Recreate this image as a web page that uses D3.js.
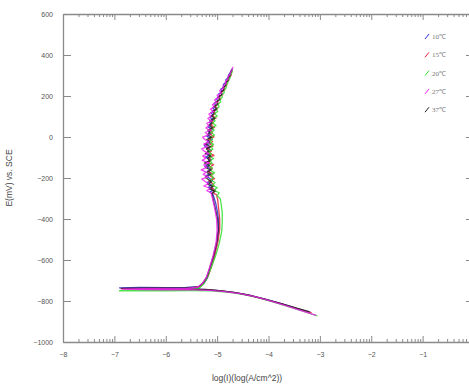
<!DOCTYPE html>
<html><head><meta charset="utf-8">
<script src="https://cdn.jsdelivr.net/npm/d3@7"></script>
<style>body{margin:0;background:#fff}svg{display:block}</style>
</head><body>
<script>
const seriesNames = ["10℃","15℃","20℃","27℃","37℃"];
const seriesColors = ["#2a2ad0","#e8203a","#30e030","#f020f0","#202020"];
const xTicks = [-8,-7,-6,-5,-4,-3,-2,-1];
const yTicks = [600,400,200,0,-200,-400,-600,-800,-1000];
const s10 = [[-3.18,-855],[-3.45,-836],[-3.75,-813],[-4.05,-792],[-4.35,-773],[-4.65,-759],[-4.95,-750],[-5.2,-745],[-5.6,-741],[-6.1,-739],[-6.5,-738],[-6.9,-736],[-6.5,-734],[-6.0,-735],[-5.6,-734],[-5.35,-730],[-5.25,-712],[-5.19,-688],[-5.13,-640],[-5.06,-585],[-5.0,-520],[-4.97,-460],[-4.97,-410],[-4.99,-370],[-5.03,-320],
[-5.08,-280],[-5.14,-268],[-5.05,-257],[-5.17,-246],[-5.11,-233],[-5.2,-222],[-5.09,-212],[-5.16,-199],[-5.22,-188],[-5.12,-178],[-5.19,-166],[-5.1,-155],[-5.24,-144],[-5.15,-132],[-5.2,-121],[-5.11,-110],[-5.23,-98],[-5.14,-88],[-5.21,-76],[-5.12,-65],[-5.18,-53],[-5.25,-42],[-5.13,-31],[-5.19,-20],[-5.1,-8],[-5.2,3],[-5.12,15],[-5.17,26],[-5.08,38],[-5.18,49],[-5.11,61],[-5.15,72],[-5.06,84],[-5.14,95],[-5.08,107],[-5.12,118],[-5.03,130],[-5.09,141],[-5.02,153],[-5.06,164],[-4.98,176],[-5.02,187],[-4.95,199],[-4.97,210],[-4.9,222],[-4.93,233],[-4.86,245],[-4.88,256],[-4.82,268],[-4.83,279],[-4.78,291],[-4.78,302],[-4.74,314],[-4.73,326]];
const s15 = [[-3.16,-858],[-3.43,-838],[-3.73,-815],[-4.03,-794],[-4.33,-775],[-4.63,-760],[-4.93,-751],[-5.18,-746],[-5.6,-744],[-6.1,-743],[-6.5,-742],[-6.87,-740],[-6.4,-739],[-5.9,-739],[-5.5,-737],[-5.32,-728],[-5.24,-705],[-5.17,-675],[-5.1,-625],[-5.04,-570],[-4.98,-505],[-4.95,-450],[-4.95,-400],[-4.97,-350],[-4.99,-305],
[-5.01,-282],[-5.09,-271],[-5.03,-259],[-5.12,-249],[-5.06,-236],[-5.1,-225],[-5.16,-214],[-5.05,-203],[-5.13,-191],[-5.08,-180],[-5.18,-169],[-5.1,-157],[-5.14,-147],[-5.07,-135],[-5.19,-123],[-5.12,-113],[-5.16,-101],[-5.06,-90],[-5.15,-79],[-5.11,-67],[-5.2,-56],[-5.08,-45],[-5.14,-33],[-5.09,-22],[-5.17,-10],[-5.06,1],[-5.13,12],[-5.09,24],[-5.16,35],[-5.05,47],[-5.12,58],[-5.07,70],[-5.11,81],[-5.02,93],[-5.09,104],[-5.04,116],[-5.07,127],[-4.99,139],[-5.04,150],[-4.97,162],[-5.0,173],[-4.93,185],[-4.96,196],[-4.89,208],[-4.92,219],[-4.85,231],[-4.87,242],[-4.81,254],[-4.82,265],[-4.77,277],[-4.77,288],[-4.73,300],[-4.72,312],[-4.71,322]];
const s20 = [[-3.05,-872],[-3.33,-850],[-3.63,-826],[-3.93,-803],[-4.23,-782],[-4.53,-766],[-4.83,-756],[-5.13,-750],[-5.5,-749],[-6.0,-750],[-6.5,-751],[-6.9,-750],[-6.5,-747],[-6.0,-746],[-5.6,-744],[-5.35,-738],[-5.26,-716],[-5.2,-690],[-5.12,-640],[-5.03,-580],[-4.96,-520],[-4.91,-460],[-4.9,-410],[-4.9,-370],[-4.92,-330],
[-4.94,-300],[-5.0,-286],[-4.96,-272],[-5.06,-260],[-5.0,-247],[-5.1,-235],[-5.04,-222],[-5.13,-210],[-5.07,-197],[-5.12,-185],[-5.05,-174],[-5.15,-162],[-5.09,-151],[-5.17,-139],[-5.1,-128],[-5.14,-116],[-5.07,-105],[-5.16,-93],[-5.11,-82],[-5.18,-70],[-5.08,-59],[-5.13,-47],[-5.07,-36],[-5.15,-24],[-5.09,-13],[-5.13,-1],[-5.05,10],[-5.12,22],[-5.06,33],[-5.1,45],[-5.02,56],[-5.09,68],[-5.04,79],[-5.07,91],[-5.0,102],[-5.05,114],[-4.99,125],[-5.02,137],[-4.96,148],[-4.99,160],[-4.93,171],[-4.95,183],[-4.9,194],[-4.91,206],[-4.86,217],[-4.87,229],[-4.82,240],[-4.83,252],[-4.79,263],[-4.79,275],[-4.75,286],[-4.75,298],[-4.72,310],[-4.7,330]];
const s27 = [[-3.07,-870],[-3.35,-848],[-3.65,-824],[-3.95,-801],[-4.25,-780],[-4.55,-764],[-4.85,-754],[-5.15,-748],[-5.55,-745],[-6.0,-745],[-6.45,-744],[-6.85,-742],[-6.45,-740],[-6.0,-740],[-5.6,-739],[-5.38,-733],[-5.28,-712],[-5.21,-685],[-5.15,-640],[-5.08,-580],[-5.02,-515],[-5.0,-455],[-5.01,-400],[-5.05,-345],[-5.09,-300],
[-5.12,-272],[-5.2,-262],[-5.14,-250],[-5.26,-239],[-5.17,-228],[-5.24,-216],[-5.3,-205],[-5.18,-194],[-5.27,-182],[-5.21,-171],[-5.31,-160],[-5.2,-148],[-5.26,-137],[-5.16,-126],[-5.29,-114],[-5.22,-103],[-5.28,-92],[-5.17,-80],[-5.25,-69],[-5.3,-58],[-5.19,-46],[-5.26,-35],[-5.16,-24],[-5.24,-12],[-5.28,-1],[-5.17,10],[-5.23,22],[-5.14,33],[-5.22,44],[-5.16,56],[-5.2,67],[-5.11,78],[-5.18,90],[-5.12,101],[-5.16,112],[-5.07,124],[-5.13,135],[-5.06,146],[-5.09,158],[-5.01,169],[-5.05,180],[-4.97,192],[-5.0,203],[-4.92,214],[-4.95,226],[-4.88,237],[-4.89,248],[-4.83,260],[-4.84,271],[-4.79,282],[-4.79,294],[-4.75,305],[-4.74,316],[-4.71,328],[-4.69,342]];
const s37 = [[-3.2,-853],[-3.47,-834],[-3.77,-812],[-4.07,-791],[-4.37,-772],[-4.67,-758],[-4.97,-749],[-5.22,-744],[-5.6,-742],[-6.1,-741],[-6.5,-740],[-6.86,-738],[-6.4,-737],[-6.0,-737],[-5.6,-736],[-5.36,-731],[-5.27,-710],[-5.2,-682],[-5.14,-635],[-5.07,-578],[-5.01,-512],[-4.98,-452],[-4.99,-402],[-5.03,-355],[-5.07,-310],
[-5.1,-276],[-5.04,-265],[-5.15,-253],[-5.08,-242],[-5.19,-230],[-5.11,-219],[-5.17,-207],[-5.23,-196],[-5.13,-184],[-5.2,-173],[-5.12,-161],[-5.22,-150],[-5.15,-139],[-5.25,-127],[-5.14,-116],[-5.19,-104],[-5.12,-93],[-5.23,-81],[-5.16,-70],[-5.21,-58],[-5.13,-47],[-5.24,-35],[-5.15,-24],[-5.2,-12],[-5.11,-1],[-5.19,11],[-5.14,22],[-5.18,34],[-5.09,45],[-5.16,57],[-5.1,68],[-5.14,80],[-5.05,91],[-5.11,103],[-5.06,114],[-5.09,126],[-5.01,137],[-5.06,149],[-4.99,160],[-5.02,172],[-4.95,183],[-4.98,195],[-4.91,206],[-4.93,218],[-4.87,229],[-4.88,241],[-4.83,252],[-4.84,264],[-4.79,275],[-4.79,287],[-4.75,298],[-4.75,310],[-4.72,322],[-4.71,334]];
const seriesData = [s10, s15, s20, s27, s37];
const drawOrder = [0,1,2,4,3];

const W = 469, H = 385;
const svg = d3.select("body").append("svg").attr("width", W).attr("height", H);
const x = d3.scaleLinear().domain([-8, 0]).range([63, 474]);
const y = d3.scaleLinear().domain([-1000, 600]).range([342, 14]);
const axisColor = "#8a8a8a";
const font = "Liberation Sans, Arial, sans-serif";

const minorTicks = [];
xTicks.concat([0]).forEach(m => { for (let k = 2; k <= 9; k++) minorTicks.push(m - 1 + Math.log10(k)); });
const minorIn = minorTicks.filter(v => v > -8 && v <= 0);

function styleAxis(g) {
  g.select(".domain").attr("stroke", axisColor).attr("stroke-width", 1.3);
  g.selectAll(".tick line").attr("stroke", axisColor).attr("stroke-width", 1);
  g.selectAll(".tick text").attr("fill", "#555").attr("font-family", font).attr("font-size", 7);
}

const gb = svg.append("g").attr("transform", `translate(0,${y(-1000)})`)
  .call(d3.axisBottom(x).tickValues(xTicks).tickSizeInner(-6).tickSizeOuter(0).tickPadding(10).tickFormat(d3.format("d")));
styleAxis(gb);
svg.append("g").attr("transform", `translate(0,${y(-1000)})`)
  .call(d3.axisBottom(x).tickValues(minorIn).tickSizeInner(-3).tickSizeOuter(0).tickFormat(""))
  .call(g => { g.select(".domain").remove(); g.selectAll("line").attr("stroke", axisColor); });
const gt = svg.append("g").attr("transform", `translate(0,${y(600)})`)
  .call(d3.axisBottom(x).tickValues(xTicks).tickSizeInner(6).tickSizeOuter(0).tickFormat(""));
styleAxis(gt);
svg.append("g").attr("transform", `translate(0,${y(600)})`)
  .call(d3.axisBottom(x).tickValues(minorIn).tickSizeInner(3).tickSizeOuter(0).tickFormat(""))
  .call(g => { g.select(".domain").remove(); g.selectAll("line").attr("stroke", axisColor); });
const gl = svg.append("g").attr("transform", `translate(${x(-8)},0)`)
  .call(d3.axisLeft(y).tickValues(yTicks).tickSizeInner(-8).tickSizeOuter(0).tickPadding(10).tickFormat(d3.format("d")));
styleAxis(gl);
const gr = svg.append("g").attr("transform", `translate(${x(0)},0)`)
  .call(d3.axisRight(y).tickValues(yTicks).tickSizeInner(-8).tickSizeOuter(0).tickFormat(""));
styleAxis(gr);

svg.append("clipPath").attr("id", "clip").append("rect")
  .attr("x", x(-8)).attr("y", y(600)).attr("width", x(0) - x(-8)).attr("height", y(-1000) - y(600));

const line = d3.line().x(d => x(d[0])).y(d => y(d[1]));
const gc = svg.append("g").attr("clip-path", "url(#clip)");
drawOrder.forEach(i => {
  gc.append("path").datum(seriesData[i]).attr("d", line)
    .attr("fill", "none").attr("stroke", seriesColors[i]).attr("stroke-width", 1.3)
    .attr("stroke-linejoin", "round").attr("stroke-opacity", 0.85);
});

const lg = svg.append("g");
seriesNames.forEach((n, i) => {
  const ly = 37 + i * 18.3;
  lg.append("line").attr("x1", 425).attr("y1", ly + 2).attr("x2", 429).attr("y2", ly - 3)
    .attr("stroke", seriesColors[i]).attr("stroke-width", 1);
  lg.append("text").attr("x", 432).attr("y", ly + 2).text(n)
    .attr("font-family", "Liberation Serif, serif").attr("font-size", 7).attr("fill", "#777");
});

svg.append("text").attr("x", 247).attr("y", 381).attr("text-anchor", "middle")
  .attr("font-family", font).attr("font-size", 8.5).attr("fill", "#444").text("log(I)(log(A/cm^2))");
svg.append("text").attr("transform", "translate(12,178) rotate(-90)").attr("text-anchor", "middle")
  .attr("font-family", font).attr("font-size", 8.5).attr("fill", "#444").text("E(mV) vs. SCE");
</script>
</body></html>
